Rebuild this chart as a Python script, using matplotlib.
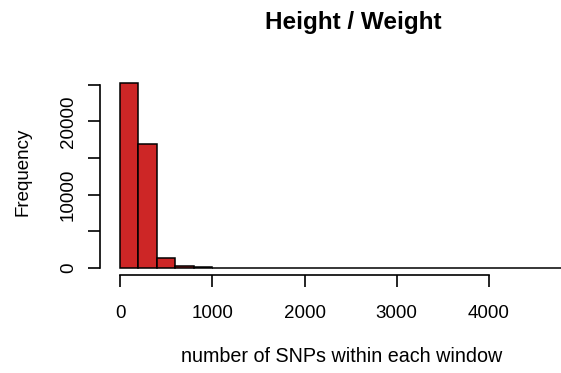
import matplotlib
matplotlib.use("Agg")
import matplotlib.pyplot as plt
import numpy as np

plt.rcParams['font.family'] = ['Liberation Sans', 'DejaVu Sans']

# Histogram of SNP counts per window (bin width 200)
bin_edges = list(range(0, 5001, 200))
counts = [25200, 16950, 1330, 260, 25, 8, 4, 3, 2, 2, 1, 1, 1, 0, 1,
          0, 0, 0, 1, 0, 0, 0, 0, 0, 0]
x_ticks = [0, 1000, 2000, 3000, 4000]
y_ticks = [0, 5000, 10000, 15000, 20000, 25000]
y_labels = ["0", "", "10000", "", "20000", ""]

W, H = 561, 373
fig = plt.figure(figsize=(W / 100, H / 100), dpi=100)
left, right, top, bottom = 100, 607, 76, 275
ax = fig.add_axes([left / W, 1 - bottom / H, (right - left) / W, (bottom - top) / H])

edges = np.array(bin_edges)
ax.bar(edges[:-1], counts, width=np.diff(edges), align='edge',
       color='#CD2626', edgecolor='black', linewidth=1.1)

ax.set_xlim(-217, 5279)
ax.set_ylim(-1008, 26208)

for s in ['top', 'right']:
    ax.spines[s].set_visible(False)
ax.spines['bottom'].set_bounds(0, 4000)
ax.spines['left'].set_bounds(0, 25000)
for s in ['bottom', 'left']:
    ax.spines[s].set_linewidth(1.2)

ax.set_xticks(x_ticks)
ax.set_xticklabels([str(v) for v in x_ticks])
ax.set_yticks(y_ticks)
ax.set_yticklabels(y_labels, rotation=90, va='center')
ax.tick_params(axis='both', length=8.5, width=1.2, labelsize=13.5, pad=13)
ax.tick_params(axis='y', pad=8)

fig.text(353 / W, 1 - 22 / H, "Height / Weight", ha='center', va='center',
         fontsize=17.5, fontweight='bold')
fig.text(342 / W, 1 - 356 / H, "number of SNPs within each window",
         ha='center', va='center', fontsize=14.2)
fig.text(23 / W, 1 - 172 / H, "Frequency", ha='center', va='center',
         rotation=90, fontsize=13.5)

fig.savefig("out.png", dpi=100)
